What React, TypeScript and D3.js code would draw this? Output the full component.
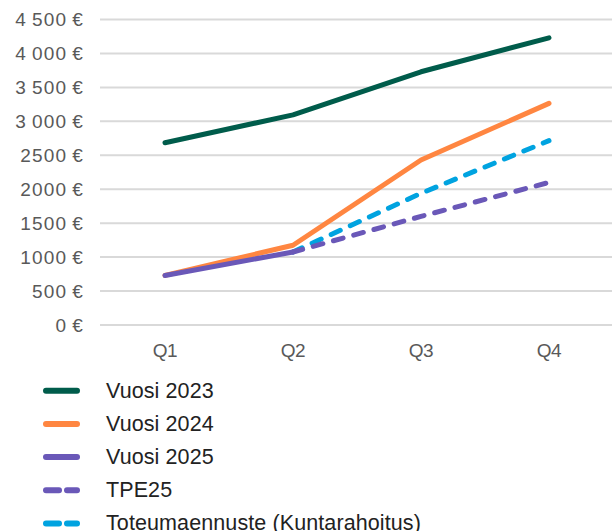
import React from "react";
import * as d3 from "d3";

const categories = ["Q1", "Q2", "Q3", "Q4"];
const yTicks = [0, 500, 1000, 1500, 2000, 2500, 3000, 3500, 4000, 4500];
const yTickLabels = ["0\u2009€", "500\u2009€", "1000\u2009€", "1500\u2009€", "2000\u2009€", "2500\u2009€", "3\u2009000\u2009€", "3\u2009500\u2009€", "4\u2009000\u2009€", "4\u2009500\u2009€"];

const vuosi2023 = [2685, 3095, 3730, 4230];
const vuosi2024 = [730, 1175, 2430, 3265];
const vuosi2025 = [730, 1075, null, null];
const tpe25 = [null, 1075, 1600, 2100];
const toteumaennuste = [null, 1075, 1940, 2715];

const seriesNames = ["Vuosi 2023", "Vuosi 2024", "Vuosi 2025", "TPE25", "Toteumaennuste (Kuntarahoitus)"];
const seriesColors = ["#005C4B", "#FF8641", "#6A58B8", "#6A58B8", "#00A3E0"];
const seriesDashed = [false, false, false, true, true];
const seriesValues = [vuosi2023, vuosi2024, vuosi2025, tpe25, toteumaennuste];

export default function App() {
  const W = 614, H = 531;
  const x = d3.scalePoint<string>().domain(categories).range([101, 613]).padding(0.5);
  const y = d3.scaleLinear().domain([0, 4500]).range([325, 19.5]);
  const line = d3
    .line<number | null>()
    .defined((d) => d !== null)
    .x((_, i) => x(categories[i]) as number)
    .y((d) => y(d as number));

  const drawOrder = [0, 1, 4, 3, 2];
  const font = "'Liberation Sans', Arial, sans-serif";

  return (
    <svg width={W} height={H} style={{ position: "absolute", left: 0, top: 0 }} fontFamily={font}>
      {yTicks.map((t, i) => (
        <g key={t}>
          <line x1={100} x2={612} y1={y(t)} y2={y(t)} stroke="#D9D9D9" strokeWidth={2} />
          <text x={84} y={y(t)} dy="0.36em" textAnchor="end" fontSize={19} fill="#595959" letterSpacing={1.2}>
            {yTickLabels[i]}
          </text>
        </g>
      ))}
      {categories.map((c) => (
        <text key={c} x={x(c) as number} y={357} textAnchor="middle" fontSize={19} fill="#595959" letterSpacing={-0.3}>
          {c}
        </text>
      ))}
      {drawOrder.map((si) => (
        <path
          key={si}
          d={line(seriesValues[si] as (number | null)[]) || ""}
          fill="none"
          stroke={seriesColors[si]}
          strokeWidth={5}
          strokeLinecap="round"
          strokeLinejoin="round"
          strokeDasharray={seriesDashed[si] ? "10 11" : undefined}
        />
      ))}
      {seriesNames.map((n, i) => {
        const ly = 390.7 + i * 33.2;
        return (
          <g key={n}>
            {seriesDashed[i] ? (
              <>
                <line x1={46} x2={59} y1={ly} y2={ly} stroke={seriesColors[i]} strokeWidth={6} strokeLinecap="round" />
                <line x1={67} x2={77} y1={ly} y2={ly} stroke={seriesColors[i]} strokeWidth={6} strokeLinecap="round" />
              </>
            ) : (
              <line x1={46} x2={77} y1={ly} y2={ly} stroke={seriesColors[i]} strokeWidth={6} strokeLinecap="round" />
            )}
            <text x={106} y={ly + 6.8} fontSize={21.5} fill="#222222" letterSpacing={0.1}>
              {n}
            </text>
          </g>
        );
      })}
    </svg>
  );
}
